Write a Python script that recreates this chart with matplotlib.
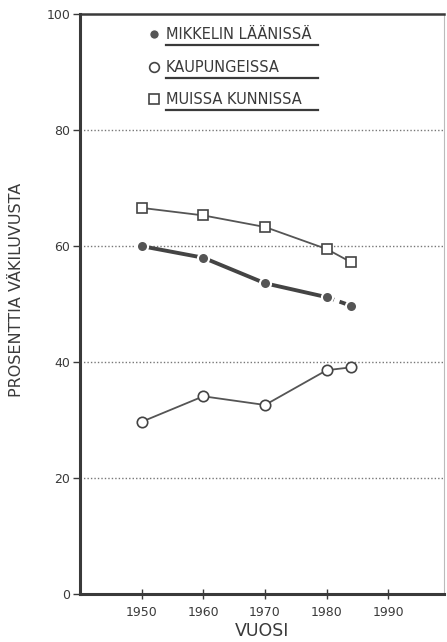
import matplotlib
matplotlib.use("Agg")
import matplotlib.pyplot as plt
from matplotlib.lines import Line2D

years = [1950, 1960, 1970, 1980, 1984]
mikkeli = [60.0, 58.0, 53.6, 51.2, 49.7]
kaupungeissa = [29.7, 34.1, 32.6, 38.6, 39.1]
muissa = [66.6, 65.3, 63.3, 59.5, 57.2]
labels = ["MIKKELIN LÄÄNISSÄ", "KAUPUNGEISSA", "MUISSA KUNNISSA"]
xticks = [1950, 1960, 1970, 1980, 1990]
yticks = [0, 20, 40, 60, 80, 100]

plt.rcParams['font.family'] = ['DejaVu Sans']
ink = '#3a3a3a'
fig = plt.figure(figsize=(4.47, 6.42), dpi=100)
ax = fig.add_axes([0.179, 0.0748, 0.814, 0.903])
ax.set_xlim(1940, 1999)
ax.set_ylim(0, 100)

for y in yticks[1:-1]:
    ax.axhline(y, color='#777777', lw=1.0, ls=(0, (1, 1.5)), zorder=0)

# Muissa kunnissa
ax.plot(years, muissa, color='#555555', lw=1.3, marker='s', ms=7.5,
        mfc='white', mec='#444444', mew=1.2, zorder=3)
# Kaupungeissa
ax.plot(years, kaupungeissa, color='#555555', lw=1.3, marker='o', ms=7.5,
        mfc='white', mec='#444444', mew=1.2, zorder=3)
# Mikkelin lääni
ax.plot(years[:4], mikkeli[:4], color='#444444', lw=2.8, zorder=2)
ax.plot(years[3:], mikkeli[3:], color='#444444', lw=2.8, ls=(0, (2, 1.5)), zorder=2)
ax.plot(years, mikkeli, ls='none', marker='o', ms=8, mfc='#555555',
        mec='white', mew=1.5, zorder=3)

ax.set_xticks(xticks)
ax.set_yticks(yticks)
ax.tick_params(axis='x', direction='inout', length=7, width=1, colors=ink,
               labelsize=9, pad=5)
ax.tick_params(axis='y', direction='out', length=5, width=1, colors=ink,
               labelsize=9, pad=2)
for s in ax.spines.values():
    s.set_color(ink)
    s.set_linewidth(1.2)
ax.spines['right'].set_color('#bbbbbb')
ax.spines['right'].set_linewidth(0.8)
ax.spines['left'].set_linewidth(2.2)
ax.spines['bottom'].set_linewidth(2.2)
ax.spines['top'].set_linewidth(1.8)

ax.set_xlabel('VUOSI', fontsize=12.5, color=ink, labelpad=2)
ax.set_ylabel('PROSENTTIA VÄKILUVUSTA', fontsize=11.5, color=ink)
ax.yaxis.set_label_coords(-0.155, 0.524)

handles = [
    Line2D([], [], ls='none', marker='o', ms=7, mfc='#555555', mec='white'),
    Line2D([], [], ls='none', marker='o', ms=7, mfc='white', mec='#444444', mew=1.2),
    Line2D([], [], ls='none', marker='s', ms=7, mfc='white', mec='#444444', mew=1.2),
]
leg = ax.legend(handles, labels, loc='upper left', bbox_to_anchor=(0.15, 1.0),
                frameon=False, handlelength=0.8, handletextpad=0.45,
                labelspacing=1.2, fontsize=10.5, labelcolor=ink)
fig.canvas.draw()
inv = fig.transFigure.inverted()
x_end = 318 / 447
for t in leg.get_texts():
    bb = t.get_window_extent()
    x0, y0 = inv.transform((bb.x0, bb.y0 - 3))
    fig.add_artist(Line2D([x0, x_end], [y0, y0], transform=fig.transFigure,
                          color=ink, lw=1.6))

fig.savefig('out.png', dpi=100)
